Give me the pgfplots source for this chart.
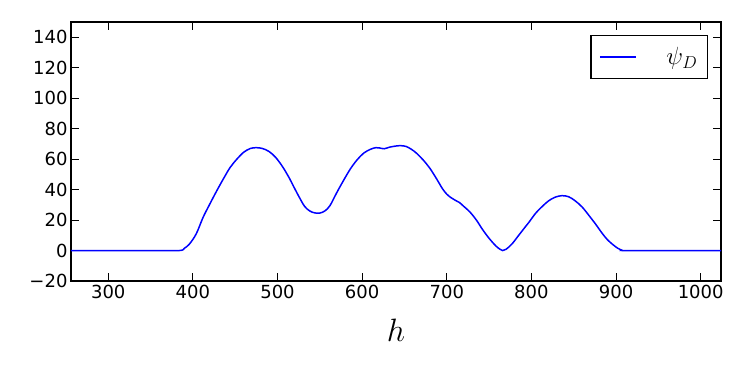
\documentclass[border=0pt]{standalone}
\usepackage{pgfplots}
\pgfplotsset{compat=1.18}
\usepackage{fontspec}
\setmainfont{DejaVu Sans}
\pgfplotstableread{
x y
256 0
300 0
350 0
384 0
390 1.5
396 4.3
404 11
412 21.7
420 30.5
428 39
436 47
444 54.5
452 60
460 64.5
468 67
475 67.5
482 67
490 65
498 61
506 55
514 47.5
520 41
526 34.7
532 29
538 26
544 24.7
550 24.6
556 26
562 29.5
570 38
578 46
586 53.5
594 59.5
602 64
610 66.5
616 67.5
620 67.4
626 66.8
632 67.8
640 68.6
646 68.8
652 68.3
658 66.5
664 64
672 59.5
680 54
688 47
695 40.5
700 37
705 34.7
710 33
715 31.5
720 29
727 25.5
735 20
742 14
750 8
758 3
763 0.8
766 0
770 0.8
777 4.3
785 10
792 15
797 18.5
805 24.5
812 28.5
820 32.5
828 35
836 36
844 35.3
852 32.5
860 28.5
868 23
876 17.2
884 11
890 7
896 4
902 1.5
907 0.2
910 0
950 0
1000 0
1024 0
}\datatab
\begin{document}
\begin{tikzpicture}
\begin{axis}[
  name=ax,
  scale only axis,
  width=650pt, height=259pt,
  xmin=256, xmax=1024, ymin=-20, ymax=150,
  xtick={300,400,...,1000},
  ytick={-20,0,...,140},
  yticklabels={−20,0,20,40,60,80,100,120,140},
  tick align=inside,
  major tick length=8pt,
  axis line style={line width=1.3pt},
  every tick/.style={line width=1pt, black},
  tick label style={font=\fontsize{18}{20}\selectfont},
  /pgf/number format/assume math mode=true,
  /pgf/number format/1000 sep={},
  xticklabel style={yshift=-1pt},
  xlabel={$h$},
  xlabel style={font=\fontsize{24}{26}\selectfont, scale=1.3, yshift=-9pt},
  legend style={at={(0.98,0.95)}, anchor=north east, draw=black, line width=1.3pt,
    font=\fontsize{23}{25}\selectfont, inner xsep=8pt, inner ysep=10pt},
  legend cell align=left,
  legend image code/.code={\draw[blue, line width=1.5pt] (0pt,0pt) -- (36pt,0pt);},
]
\addplot[blue, line width=1.5pt, smooth, tension=0.55] table[x=x,y=y] {\datatab};
\addlegendentry{\hspace{28pt}$\psi_D$}
\end{axis}
\pgfresetboundingbox
\path[use as bounding box] (ax.south west) ++(-71pt,-94pt) rectangle ++(750pt,375pt);
\end{tikzpicture}
\end{document}
